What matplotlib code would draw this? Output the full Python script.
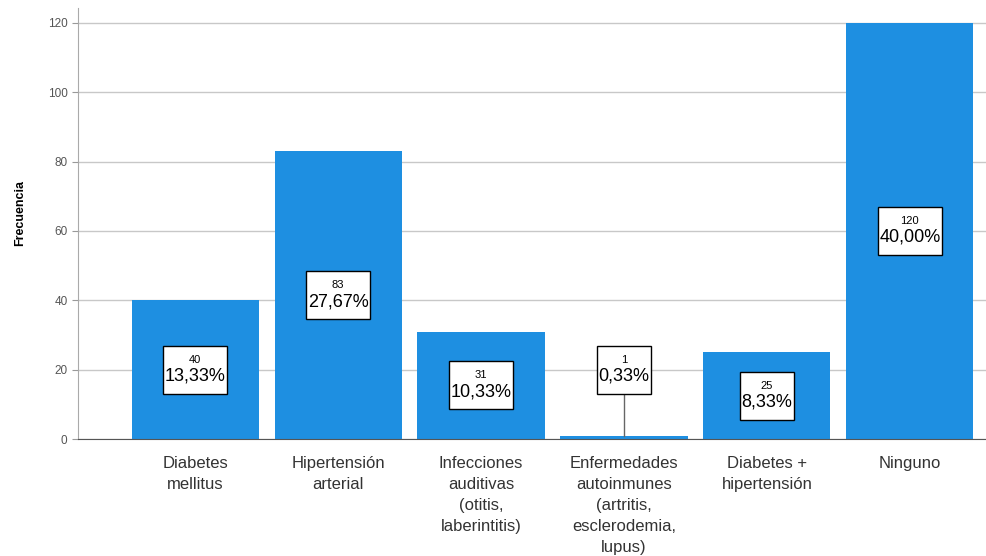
import numpy as np
import matplotlib.pyplot as plt
from matplotlib.offsetbox import TextArea, VPacker, AnnotationBbox

plt.rcParams['font.family'] = ['Liberation Sans', 'DejaVu Sans']

categorias = [
    "Diabetes\nmellitus",
    "Hipertensión\narterial",
    "Infecciones\nauditivas\n(otitis,\nlaberintitis)",
    "Enfermedades\nautoinmunes\n(artritis,\nesclerodemia,\nlupus)",
    "Diabetes +\nhipertensión",
    "Ninguno",
]
frecuencia = [40, 83, 31, 1, 25, 120]
porcentaje = ["13,33%", "27,67%", "10,33%", "0,33%", "8,33%", "40,00%"]

fig = plt.figure(figsize=(9.87, 5.56), dpi=100)
ax = fig.add_axes([0.079, 0.2104, 0.921, 0.7752])

x = np.arange(len(categorias))
ax.bar(x, frecuencia, width=0.89, color="#1e8fe1", zorder=3)

ax.set_xlim(-0.82, 5.54)
ax.set_ylim(0, 124.3)
ax.set_yticks([0, 20, 40, 60, 80, 100, 120])
ax.yaxis.grid(True, color="#c8c8c8", linewidth=1, zorder=0)
ax.tick_params(axis="y", labelsize=8.5, labelcolor="#555555", color="#999999", length=4)
ax.set_xticks(x)
ax.set_xticklabels(categorias, fontsize=12, color="#333333", linespacing=1.5, va="top")
ax.tick_params(axis="x", length=0, pad=12)

for s in ["top", "right"]:
    ax.spines[s].set_visible(False)
ax.spines["left"].set_color("#aaaaaa")
ax.spines["bottom"].set_color("#555555")
ax.spines["bottom"].set_zorder(4)

ax.set_ylabel("Frecuencia", fontsize=9, fontweight="bold")
ax.yaxis.set_label_coords(-0.057, 0.525)

# etiquetas con recuadro (frecuencia + porcentaje)
for xi, v, p in zip(x, frecuencia, porcentaje):
    y = v / 2
    if v < 10:
        y = 20
        ax.plot([xi, xi], [v, y], color="#666666", linewidth=1, zorder=4)
    arriba = TextArea(" ", textprops=dict(fontsize=4))
    t1 = TextArea(str(v), textprops=dict(fontsize=8, color="black"))
    t2 = TextArea(p, textprops=dict(fontsize=13, color="black"))
    abajo = TextArea(" ", textprops=dict(fontsize=4))
    caja = VPacker(children=[arriba, t1, t2, abajo], align="center", pad=0, sep=2)
    ab = AnnotationBbox(caja, (xi, y), frameon=True, box_alignment=(0.5, 0.5),
                        pad=0.1, zorder=6,
                        bboxprops=dict(boxstyle="square,pad=0.1", fc="white",
                                       ec="black", lw=1))
    ax.add_artist(ab)

fig.savefig("out.png", dpi=100)
